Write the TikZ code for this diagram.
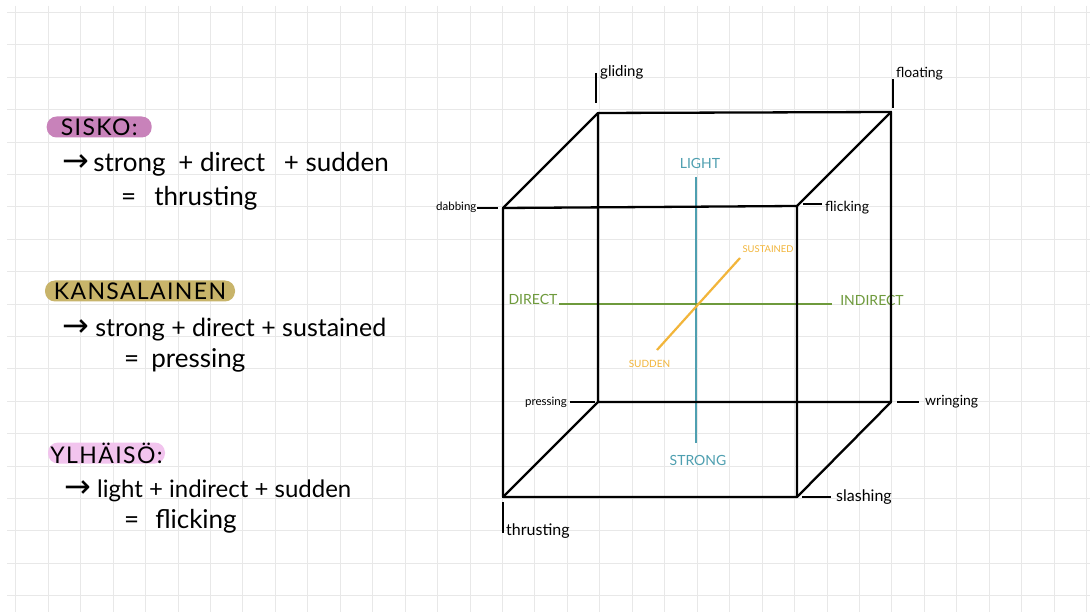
\documentclass[tikz,border=0pt]{standalone}
\usepackage{fontspec}
\setmainfont{Lato}
\newfontfamily\symf{DejaVu Sans}
\newfontfamily\pillf[LetterSpace=6]{Lato}
\definecolor{gridc}{HTML}{E8E8E8}
\definecolor{tealc}{HTML}{4E9FB0}
\definecolor{greenc}{HTML}{6E9A3C}
\definecolor{yellowc}{HTML}{F2B53A}
\definecolor{pinkA}{HTML}{C882BA}
\definecolor{goldA}{HTML}{C8B46A}
\definecolor{pinkB}{HTML}{F2C4EE}
\tikzset{
  gridline/.style={draw=gridc, line width=0.9pt},
  edge/.style={draw=black, line width=2.3pt, line cap=round, line join=round},
  tick/.style={draw=black, line width=1.3pt},
  axis/.style={line width=2.2pt},
  pill/.style={rounded corners=10pt, inner sep=0pt, minimum height=21pt, font=\pillf\fontsize{23}{23}\selectfont},
  body/.style={anchor=base west, inner sep=0pt, font=\fontsize{26}{26}\selectfont},
  corner/.style={anchor=base west, inner sep=0pt},
  axlab/.style={inner sep=0pt, font=\fontsize{14}{14}\selectfont},
}
\newcommand{\arr}{{\symf\fontsize{32}{32}\selectfont →}}
\begin{document}
\begin{tikzpicture}[x=1pt,y=-1pt]
\useasboundingbox (0,0) rectangle (1090,612);
\fill[white] (0,0) rectangle (1090,612);
% grid
\foreach \k in {0,...,33} \draw[gridline] ({15.7+32.45*\k},6) -- ({15.7+32.45*\k},612);
\foreach \k in {0,...,18} \draw[gridline] (7,{12.5+32.4*\k}) -- (1090,{12.5+32.4*\k});

% cube corners
\coordinate (ftl) at (503,208);
\coordinate (ftr) at (797,206);
\coordinate (fbl) at (503,497);
\coordinate (fbr) at (797,497);
\coordinate (btl) at (598,113);
\coordinate (btr) at (891,112);
\coordinate (bbl) at (598,402);
\coordinate (bbr) at (891,402);

% axes
\coordinate (lightE) at (696,177);
\coordinate (strongE) at (696,443);
\coordinate (directE) at (559,304);
\coordinate (indirectE) at (832,304);
\coordinate (suddenE) at (657,350);
\coordinate (sustE) at (740,258);
\draw[axis, draw=tealc] (lightE) -- (strongE);
\draw[axis, draw=greenc] (directE) -- (indirectE);
\draw[axis, draw=yellowc] (suddenE) -- (sustE);
\node[axlab, text=tealc] (light) at (700,163) {LIGHT};
\node[axlab, text=tealc] (strong) at (698,460) {STRONG};
\node[axlab, text=greenc] (direct) at (533,299) {DIRECT};
\node[axlab, text=greenc] (indirect) at (872,300) {INDIRECT};
\node[axlab, text=yellowc, font=\fontsize{9.4}{9.4}\selectfont] (sustained) at (768,249.5) {SUSTAINED};
\node[axlab, text=yellowc, font=\fontsize{10}{10}\selectfont] (sudden) at (649.5,364) {SUDDEN};

% cube edges
\draw[edge] (btl) -- (btr) -- (bbr) -- (bbl) -- cycle;
\draw[edge] (ftl) -- (ftr) -- (fbr) -- (fbl) -- cycle;
\draw[edge] (ftl) -- (btl);
\draw[edge] (ftr) -- (btr);
\draw[edge] (fbl) -- (bbl);
\draw[edge] (fbr) -- (bbr);

% corner ticks
\coordinate (t1a) at (596,73);  \coordinate (t1b) at (596,103);
\coordinate (t2a) at (893,79);  \coordinate (t2b) at (893,108);
\coordinate (t3a) at (477,208); \coordinate (t3b) at (498,208);
\coordinate (t4a) at (803,204); \coordinate (t4b) at (822,204);
\coordinate (t5a) at (570,402); \coordinate (t5b) at (595,402);
\coordinate (t6a) at (897,402); \coordinate (t6b) at (919,402);
\coordinate (t7a) at (802,497); \coordinate (t7b) at (831,497);
\coordinate (t8a) at (503,502); \coordinate (t8b) at (503,533);
\foreach \i in {1,...,8} \draw[tick] (t\i a) -- (t\i b);

% corner labels
\node[corner, font=\fontsize{15}{15}\selectfont] (gliding) at (600,77) {gliding};
\node[corner, font=\fontsize{14}{14}\selectfont] (floating) at (896,78) {floating};
\node[corner, font=\fontsize{11.5}{11.5}\selectfont] (dabbing) at (436,211) {dabbing};
\node[corner, font=\fontsize{14}{14}\selectfont] (flicking) at (825,212) {flicking};
\node[corner, font=\fontsize{11.5}{11.5}\selectfont] (pressing) at (525,405) {pressing};
\node[corner, font=\fontsize{14}{14}\selectfont] (wringing) at (925,406) {wringing};
\node[corner, font=\fontsize{16}{16}\selectfont] (slashing) at (836,501) {slashing};
\node[corner, font=\fontsize{16}{16}\selectfont] (thrusting) at (506,535) {thrusting};

% left notes
\node[pill, fill=pinkA, minimum width=105pt] (sisko) at (99.2,127) {SISKO:};
\node[body] (s1) at (62,172) {\arr\,strong\hspace*{6pt} + direct\hspace*{12pt} + sudden};
\node[body] (s2) at (121,206) {=\hspace*{18pt}thrusting};

\node[pill, fill=goldA, minimum width=190pt] (kans) at (140,291) {KANSALAINEN};
\node[body, font=\fontsize{25}{25}\selectfont] (k1) at (62,337) {\arr\ strong + direct + sustained};
\node[body] (k2) at (124,367) {=\hspace*{12pt}pressing};

\node[pill, fill=pinkB, minimum width=117pt] (ylh) at (106.5,453) {YLHÄISÖ:};
\node[body, font=\fontsize{24}{24}\selectfont] (y1) at (64,497) {\arr\ light + indirect + sudden};
\node[body] (y2) at (124,528) {=\hspace*{16pt}flicking};
\end{tikzpicture}
\end{document}
